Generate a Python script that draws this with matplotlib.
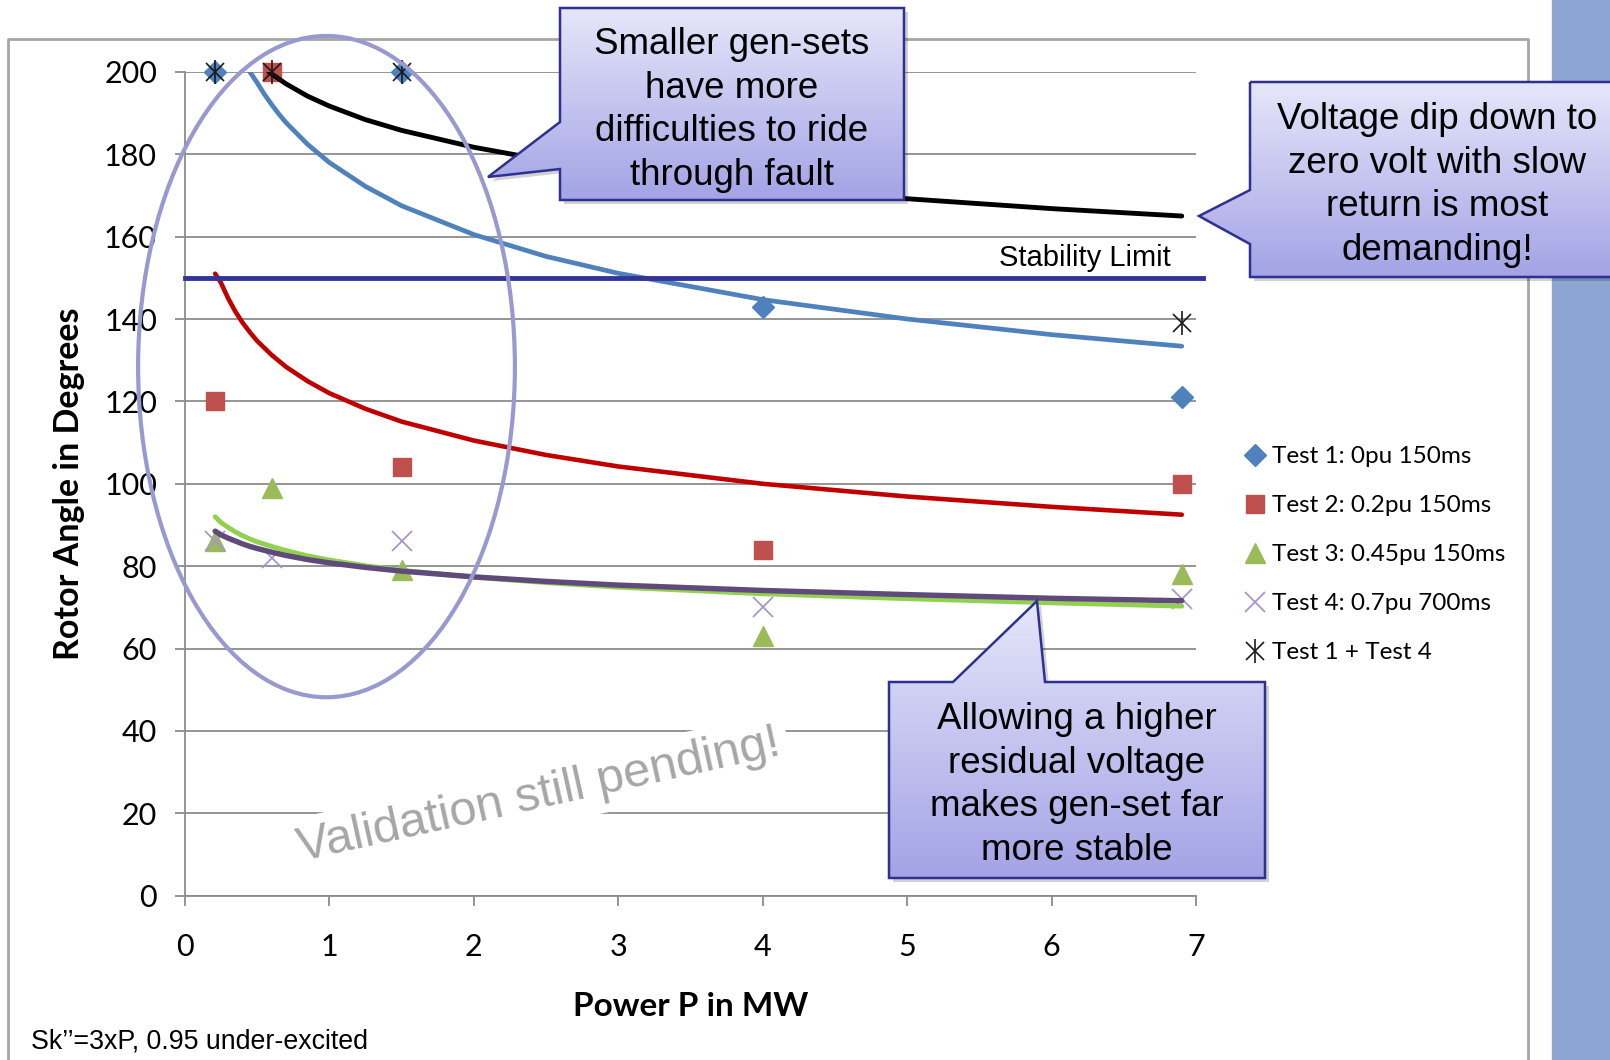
import matplotlib.pyplot as plt
import numpy as np
from matplotlib.patches import Polygon, Ellipse
from matplotlib.legend_handler import HandlerTuple
from matplotlib.colors import LinearSegmentedColormap

# measured test points (power in MW, rotor angle in degrees)
t1_x = [0.21, 1.5, 4, 6.9]
t1_y = [200, 200, 143, 121]
t2_x = [0.21, 0.6, 1.5, 4, 6.9]
t2_y = [120, 200, 104, 84, 100]
t3_x = [0.21, 0.6, 1.5, 4, 6.9]
t3_y = [86, 99, 79, 63, 78]
t4_x = [0.21, 0.6, 1.5, 4, 6.9]
t4_y = [86, 82, 86, 70, 72]
t14_x = [0.21, 0.6, 1.5, 6.9]
t14_y = [200, 200, 200, 139]

labels = ["Test 1: 0pu 150ms", "Test 2: 0.2pu 150ms", "Test 3: 0.45pu 150ms",
          "Test 4: 0.7pu 700ms", "Test 1 + Test 4"]

# trend curves
blue_x = [0.45, 0.5, 0.55, 0.6, 0.65, 0.7, 0.85, 1.0, 1.25, 1.5, 2, 2.5, 3, 4, 5, 6, 6.9]
blue_y = [200, 197.4, 194.6, 192.1, 189.8, 187.7, 182.4, 178, 172.2, 167.5, 160.5, 155.2, 151.1,
          144.7, 140.0, 136.2, 133.4]
black_x = [0.58, 0.7, 0.85, 1.0, 1.25, 1.5, 2, 2.5, 3, 4, 5, 6, 6.9]
black_y = [200, 197.1, 194.1, 191.7, 188.4, 185.8, 181.7, 178.5, 176.0, 172.1, 169.2, 166.8, 165.0]
low_x = [0.21, 0.25, 0.3, 0.35, 0.4, 0.45, 0.5, 0.6, 0.7, 0.85, 1.0, 1.25, 1.5, 2, 2.5, 3, 4, 5, 6, 6.9]
red_y = [151, 148.8, 145.0, 141.8, 139.1, 136.8, 134.7, 131.3, 128.4, 124.9, 122, 118.2, 115.1,
         110.5, 107.0, 104.2, 100.0, 96.9, 94.4, 92.5]
green_y = [92, 90.6, 89.4, 88.3, 87.4, 86.6, 85.9, 84.8, 83.8, 82.5, 81.5, 80.1, 79.0,
           77.3, 76.0, 74.9, 73.3, 72.1, 71.1, 70.3]
purple_y = [88.5, 87.6, 86.8, 86.1, 85.4, 84.8, 84.3, 83.4, 82.6, 81.6, 80.8, 79.7, 78.8,
            77.4, 76.3, 75.4, 74.1, 73.1, 72.2, 71.6]

stability_limit = 150

ui = ['Lato', 'DejaVu Sans']
arial = ['Liberation Sans', 'DejaVu Sans']

fig = plt.figure(figsize=(16.1, 10.6), dpi=100)
ax = fig.add_axes([0.1148, 0.155, 0.6282, 0.7772])
ax.set_xlim(0, 7)
ax.set_ylim(0, 200)
ax.set_yticks(range(0, 201, 20))
ax.set_xticks(range(0, 8))
ax.grid(axis='y', color='#8c8c8c', lw=1.3)
ax.set_axisbelow(True)
for s in ['top', 'right']:
    ax.spines[s].set_visible(False)
for s in ['left', 'bottom']:
    ax.spines[s].set_color('#8c8c8c')
    ax.spines[s].set_linewidth(1.3)
ax.tick_params(direction='out', length=7, color='#8c8c8c', width=1.3)
ax.tick_params(axis='y', pad=13)
ax.tick_params(axis='x', pad=20)
for lab in ax.get_xticklabels() + ax.get_yticklabels():
    lab.set_family(ui)
    lab.set_fontsize(22)
ax.set_ylabel("Rotor Angle in Degrees", family=ui, fontsize=24.5, fontweight='bold', labelpad=14)
ax.set_xlabel("Power P in MW", family=ui, fontsize=24, fontweight='bold', labelpad=22)

mk = dict(ls='none', clip_on=False, zorder=3)
h1, = ax.plot(t1_x, t1_y, marker='D', ms=11, color='#4f81bd', **mk)
h2, = ax.plot(t2_x, t2_y, marker='s', ms=13, color='#c0504d', **mk)
h3, = ax.plot(t3_x, t3_y, marker='^', ms=14, color='#9bbb59', **mk)
h4, = ax.plot(t4_x, t4_y, marker='x', ms=14, mew=1.3, color='#a795cc', **mk)

ax.plot(blue_x, blue_y, color='#4f81bd', lw=3.4, zorder=4, solid_capstyle='round')
ax.plot(black_x, black_y, color='black', lw=3.5, zorder=4, solid_capstyle='round')
ax.plot(low_x, red_y, color='#c00000', lw=3.3, zorder=4, solid_capstyle='round')
ax.plot(low_x, green_y, color='#92d050', lw=3.5, zorder=4, solid_capstyle='round')
ax.plot(low_x, purple_y, color='#604a7b', lw=3.9, zorder=4, solid_capstyle='round')

h5a, = ax.plot(t14_x, t14_y, ls='none', marker='x', ms=13, mew=1.2, color='#1a1a1a',
               zorder=6, clip_on=False)
h5b, = ax.plot(t14_x, t14_y, ls='none', marker='|', ms=17, mew=1.2, color='#1a1a1a',
               zorder=6, clip_on=False)

# stability limit line
ax.axhline(stability_limit, xmin=0, xmax=1.007, color='#333399', lw=3.5, zorder=5, clip_on=False)
ax.text(6.823, stability_limit + 1.5, "Stability Limit", ha='right', va='bottom',
        family=arial, fontsize=21, zorder=5)

fig.legend([h1, h2, h3, h4, (h5a, h5b)], labels, loc='upper left', bbox_to_anchor=(0.772, 0.579),
           frameon=False, prop={'family': ui, 'size': 17.5}, handletextpad=0.2,
           handlelength=1.0, labelspacing=1.15, borderaxespad=0, borderpad=0,
           handler_map={tuple: HandlerTuple(ndivide=1, pad=0)})

# overlay in pixel coordinates for slide decorations
ov = fig.add_axes([0, 0, 1, 1], zorder=10)
ov.set_xlim(0, 1610)
ov.set_ylim(1060, 0)
ov.axis('off')
ov.patch.set_alpha(0)

# chart frame and slide side bar
ov.plot([8, 8, 1528, 1528], [1062, 39, 39, 1062], color='#a6a6a6', lw=2, zorder=1)
ov.add_patch(plt.Rectangle((1552, 0), 60, 1060, color='#8da5d2', zorder=1))

ov.add_patch(Ellipse((326.5, 366.6), 376.8, 661.3, fill=False, edgecolor='#9999cf', lw=3, zorder=3))

ov.text(539, 796, "Validation still pending!", rotation=12.5, ha='center', va='center',
        family=arial, fontsize=35, color='#a6a6a6', zorder=2, rotation_mode='anchor',
        bbox=dict(facecolor='white', edgecolor='none', pad=6))

grad = np.linspace(0, 1, 256).reshape(-1, 1)
cmap = LinearSegmentedColormap.from_list('c', ['#e6e6fa', '#a3a3e6'])


def callout(pts, text, cx, cy):
    xs = [p[0] for p in pts]
    ys = [p[1] for p in pts]
    shadow = Polygon([(x + 4, y + 4) for x, y in pts], closed=True, facecolor='#000000',
                     alpha=0.18, edgecolor='none', zorder=4)
    ov.add_patch(shadow)
    poly = Polygon(pts, closed=True, facecolor='none', edgecolor='#2e3192', lw=1.8, zorder=6)
    ov.add_patch(poly)
    im = ov.imshow(grad, cmap=cmap, aspect='auto', extent=(min(xs), max(xs), max(ys), min(ys)),
                   zorder=5, interpolation='bilinear')
    im.set_clip_path(poly)
    ov.text(cx, cy, text, ha='center', va='center', family=arial, fontsize=26.5,
            linespacing=1.32, zorder=7)


callout([(560, 8), (904, 8), (904, 200), (560, 200), (560, 169), (488, 177), (560, 122)],
        "Smaller gen-sets\nhave more\ndifficulties to ride\nthrough fault", 732, 110)
callout([(1250, 82), (1640, 82), (1640, 277), (1250, 277), (1250, 244), (1199, 216), (1250, 190)],
        "Voltage dip down to\nzero volt with slow\nreturn is most\ndemanding!", 1437, 185)
callout([(889, 682), (953, 682), (1037, 601), (1045, 682), (1265, 682), (1265, 878), (889, 878)],
        "Allowing a higher\nresidual voltage\nmakes gen-set far\nmore stable", 1077, 785)
ov.set_xlim(0, 1610)
ov.set_ylim(1060, 0)

fig.text(31 / 1610, 1 - 1042 / 1060, "Sk\u2019\u2019=3xP, 0.95 under-excited", family=arial,
         fontsize=19.3, va='center', ha='left')

fig.savefig('out.png', dpi=100)
